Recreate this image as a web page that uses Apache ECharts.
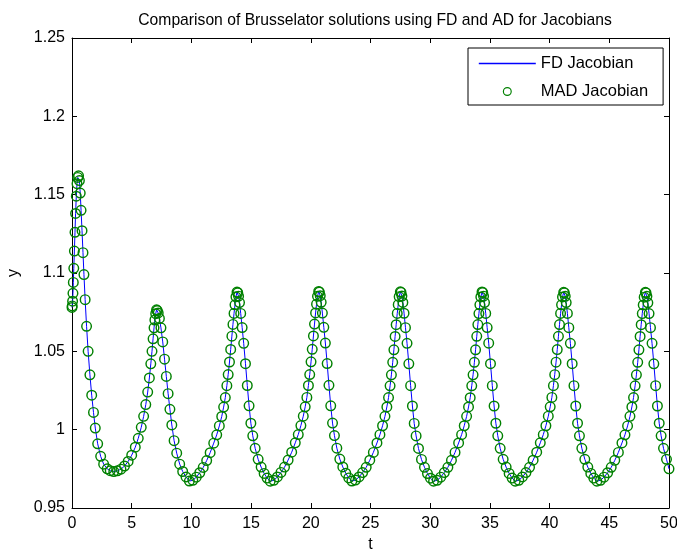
<!DOCTYPE html>
<html><head><meta charset="utf-8">
<script src="https://cdn.jsdelivr.net/npm/echarts@6/dist/echarts.min.js"></script>
<style>html,body{margin:0;padding:0;background:#fff}#c{width:677px;height:554px}</style>
</head><body><div id="c"></div>
<script>
const chartTitle = 'Comparison of Brusselator solutions using FD and AD for Jacobians';
const xName = 't';
const yName = 'y';
const seriesNames = ['FD Jacobian', 'MAD Jacobian'];

// time points of the solver output
const tValues = [
  0, 0.02, 0.05, 0.08, 0.11, 0.15, 0.2, 0.25, 0.3, 0.36, 0.42, 0.48, 0.55,
  0.62, 0.69, 0.76, 0.84, 0.92, 1.0, 1.1, 1.22, 1.35, 1.5, 1.65, 1.8, 1.95, 2.15, 2.4, 2.65, 2.95, 3.2, 3.5,
  3.8, 4.1, 4.4, 4.7, 5.0, 5.3, 5.55, 5.8, 6.0, 6.18, 6.34, 6.48, 6.6, 6.7, 6.79, 6.87, 6.94, 7.01, 7.08,
  7.14, 7.22, 7.32, 7.45, 7.6, 7.75, 7.9, 8.05, 8.2, 8.36, 8.55, 8.77, 9.02, 9.27, 9.55, 9.83,
  10.12, 10.41, 10.70, 10.99, 11.28, 11.57, 11.87, 12.12, 12.34, 12.54, 12.70, 12.84, 12.97, 13.08, 13.19, 13.29, 13.39, 13.48, 13.57, 13.65, 13.73, 13.82,
  13.88, 13.95, 14.03, 14.13, 14.25, 14.38, 14.53, 14.68, 14.83, 14.98, 15.14, 15.34, 15.59, 15.84, 16.09, 16.34, 16.60,
  16.90, 17.20, 17.50, 17.80, 18.10, 18.40, 18.70, 18.95, 19.17, 19.37, 19.53, 19.67, 19.80, 19.91, 20.02, 20.12, 20.22, 20.31, 20.40, 20.48, 20.56, 20.66,
  20.72, 20.79, 20.87, 20.97, 21.09, 21.22, 21.37, 21.52, 21.67, 21.82, 21.98, 22.18, 22.43, 22.68, 22.93, 23.18, 23.44,
  23.74, 24.04, 24.34, 24.64, 24.94, 25.24, 25.54, 25.79, 26.01, 26.21, 26.37, 26.51, 26.64, 26.75, 26.86, 26.96, 27.06, 27.15, 27.24, 27.32, 27.40, 27.50,
  27.56, 27.63, 27.71, 27.81, 27.93, 28.06, 28.21, 28.36, 28.51, 28.66, 28.82, 29.02, 29.27, 29.52, 29.77, 30.02, 30.28,
  30.58, 30.88, 31.18, 31.48, 31.78, 32.08, 32.38, 32.63, 32.85, 33.05, 33.21, 33.35, 33.48, 33.59, 33.70, 33.80, 33.90, 33.99, 34.08, 34.16, 34.24, 34.34,
  34.40, 34.47, 34.55, 34.65, 34.77, 34.90, 35.05, 35.20, 35.35, 35.50, 35.66, 35.86, 36.11, 36.36, 36.61, 36.86, 37.12,
  37.42, 37.72, 38.02, 38.32, 38.62, 38.92, 39.22, 39.47, 39.69, 39.89, 40.05, 40.19, 40.32, 40.43, 40.54, 40.64, 40.74, 40.83, 40.92, 41.00, 41.08, 41.18,
  41.24, 41.31, 41.39, 41.49, 41.61, 41.74, 41.89, 42.04, 42.19, 42.34, 42.50, 42.70, 42.95, 43.20, 43.45, 43.70, 43.96,
  44.26, 44.56, 44.86, 45.16, 45.46, 45.76, 46.06, 46.31, 46.53, 46.73, 46.89, 47.03, 47.16, 47.27, 47.38, 47.48, 47.58, 47.67, 47.76, 47.84, 47.92, 48.02,
  48.08, 48.15, 48.23, 48.33, 48.45, 48.58, 48.73, 48.88, 49.03, 49.18, 49.34, 49.54, 49.79, 50.0
];

// y component, FD-Jacobian solution
const fdValues = [
  1.078, 1.079, 1.082, 1.087, 1.094, 1.103, 1.114, 1.126, 1.138, 1.149, 1.157, 1.161, 1.162,
  1.159, 1.151, 1.140, 1.127, 1.113, 1.099, 1.083, 1.066, 1.050, 1.035, 1.022, 1.011, 1.001, 0.991, 0.983, 0.978, 0.975, 0.9738, 0.9733,
  0.9737, 0.9748, 0.9768, 0.9797, 0.9837, 0.9888, 0.9945, 1.0015, 1.0085, 1.016, 1.024, 1.033, 1.042, 1.050, 1.058, 1.065, 1.070, 1.074, 1.0765,
  1.076, 1.0745, 1.071, 1.065, 1.056, 1.045, 1.034, 1.023, 1.013, 1.003, 0.993, 0.985, 0.978, 0.9733, 0.9698, 0.9672,
  0.9677, 0.9697, 0.9725, 0.9759, 0.9803, 0.9853, 0.9914, 0.9967, 1.0024, 1.0084, 1.0144, 1.0205, 1.0281, 1.0352, 1.0432, 1.0512, 1.0597, 1.0672, 1.0742, 1.0797, 1.0848, 1.0878,
  1.0874, 1.0852, 1.0811, 1.0742, 1.0652, 1.0551, 1.0421, 1.0282, 1.0152, 1.0041, 0.9961, 0.9881, 0.9811, 0.9761, 0.9721, 0.9691, 0.9671,
  0.9677, 0.9698, 0.9727, 0.9761, 0.9806, 0.9856, 0.9916, 0.9969, 1.0026, 1.0086, 1.0146, 1.0206, 1.0282, 1.0352, 1.0433, 1.0513, 1.0598, 1.0674, 1.0745, 1.0801, 1.0851, 1.0882,
  1.0878, 1.0855, 1.0813, 1.0744, 1.0653, 1.0553, 1.0422, 1.0283, 1.0152, 1.0042, 0.9962, 0.9882, 0.9812, 0.9762, 0.9722, 0.9692, 0.9672,
  0.9678, 0.9698, 0.9726, 0.9760, 0.9805, 0.9855, 0.9915, 0.9968, 1.0025, 1.0085, 1.0145, 1.0205, 1.0280, 1.0350, 1.0430, 1.0510, 1.0595, 1.0670, 1.0742, 1.0798, 1.0849, 1.0880,
  1.0876, 1.0853, 1.0812, 1.0743, 1.0651, 1.0551, 1.0420, 1.0281, 1.0151, 1.0040, 0.9960, 0.9880, 0.9810, 0.9760, 0.9720, 0.9690, 0.9671,
  0.9677, 0.9697, 0.9726, 0.9760, 0.9804, 0.9855, 0.9915, 0.9968, 1.0025, 1.0085, 1.0145, 1.0204, 1.0280, 1.0350, 1.0430, 1.0510, 1.0596, 1.0671, 1.0741, 1.0797, 1.0847, 1.0879,
  1.0875, 1.0852, 1.0811, 1.0742, 1.0652, 1.0552, 1.0421, 1.0281, 1.0151, 1.0041, 0.9961, 0.9881, 0.9811, 0.9761, 0.9721, 0.9691, 0.9671,
  0.9677, 0.9698, 0.9726, 0.9760, 0.9805, 0.9856, 0.9916, 0.9968, 1.0025, 1.0086, 1.0146, 1.0206, 1.0281, 1.0351, 1.0431, 1.0511, 1.0596, 1.0671, 1.0742, 1.0797, 1.0847, 1.0877,
  1.0873, 1.0851, 1.0811, 1.0742, 1.0651, 1.0551, 1.0421, 1.0281, 1.0151, 1.0041, 0.9961, 0.9881, 0.9811, 0.9761, 0.9721, 0.9691, 0.9671,
  0.9677, 0.9697, 0.9725, 0.9760, 0.9804, 0.9855, 0.9915, 0.9967, 1.0024, 1.0085, 1.0145, 1.0205, 1.0280, 1.0350, 1.0430, 1.0510, 1.0595, 1.0670, 1.0741, 1.0796, 1.0846, 1.0877,
  1.0873, 1.0851, 1.0810, 1.0741, 1.0651, 1.0551, 1.0420, 1.0281, 1.0151, 1.0041, 0.9961, 0.9881, 0.9811, 0.9750
];

// y component, MAD-Jacobian solution (coincides with FD at plotting resolution)
const madValues = fdValues.slice();

const fdData = tValues.map((t, i) => [t, fdValues[i]]);
const madData = tValues.map((t, i) => [t, madValues[i]]);

const FONT = 'Liberation Sans, Arial, Helvetica, sans-serif';
const TXT = '#000';
// hollow ring marker (outer clockwise, inner counter-clockwise => transparent centre)
const RING = 'path://M50,0 A50,50 0 1,1 50,100 A50,50 0 1,1 50,0 Z M50,13 A37,37 0 1,0 50,87 A37,37 0 1,0 50,13 Z';

const chart = echarts.init(document.getElementById('c'), null, {renderer: 'canvas'});
const axisCommon = {
  axisLine: {show: true, onZero: false, lineStyle: {color: '#000', width: 1}},
  axisTick: {show: true, inside: true, length: 5, lineStyle: {color: '#000', width: 1}},
  splitLine: {show: false}
};
chart.setOption({
  animation: false,
  backgroundColor: '#fff',
  title: {
    text: chartTitle, left: 370, top: 8, textAlign: 'center',
    textStyle: {fontFamily: FONT, fontSize: 15.7, fontWeight: 'normal', color: TXT}
  },
  grid: {left: 72, right: 8, top: 38, bottom: 46, containLabel: false, outerBoundsMode: 'none'},
  legend: {
    orient: 'vertical', left: 468, top: 48,
    itemWidth: 57, itemHeight: 9, itemGap: 11,
    padding: [7, 15, 5, 10],
    backgroundColor: '#fff', borderColor: '#000', borderWidth: 1, borderRadius: 0,
    textStyle: {fontFamily: FONT, fontSize: 16.5, color: TXT},
    data: [
      {name: seriesNames[0], itemStyle: {opacity: 0}, lineStyle: {width: 1.6, color: '#0000ff'}},
      {name: seriesNames[1]}
    ]
  },
  xAxis: [
    Object.assign({
      type: 'value', min: 0, max: 50, interval: 5, position: 'bottom',
      name: xName, nameLocation: 'middle', nameGap: 23,
      nameTextStyle: {fontFamily: FONT, fontSize: 16, color: TXT},
      axisLabel: {fontFamily: FONT, fontSize: 16, color: TXT, margin: 8}
    }, axisCommon),
    Object.assign({
      type: 'value', min: 0, max: 50, interval: 5, position: 'top',
      axisLabel: {show: false}
    }, axisCommon)
  ],
  yAxis: [
    Object.assign({
      type: 'value', min: 0.95, max: 1.25, interval: 0.05, position: 'left',
      name: yName, nameLocation: 'middle', nameGap: 50, nameRotate: 90,
      nameTextStyle: {fontFamily: FONT, fontSize: 16, color: TXT},
      axisLabel: {fontFamily: FONT, fontSize: 16, color: TXT, margin: 7}
    }, axisCommon),
    Object.assign({
      type: 'value', min: 0.95, max: 1.25, interval: 0.05, position: 'right',
      axisLabel: {show: false}
    }, axisCommon)
  ],
  series: [
    {
      name: seriesNames[0], type: 'line', data: fdData, xAxisIndex: 0, yAxisIndex: 0,
      symbol: 'none', smooth: false,
      lineStyle: {color: '#0000ff', width: 1},
      itemStyle: {color: '#0000ff'}, z: 2
    },
    {
      name: seriesNames[1], type: 'scatter', data: madData, xAxisIndex: 0, yAxisIndex: 0,
      symbol: RING, symbolSize: 11, symbolKeepAspect: true,
      itemStyle: {color: '#008000', borderWidth: 0, opacity: 1},
      z: 3
    }
  ]
});
</script></body></html>
